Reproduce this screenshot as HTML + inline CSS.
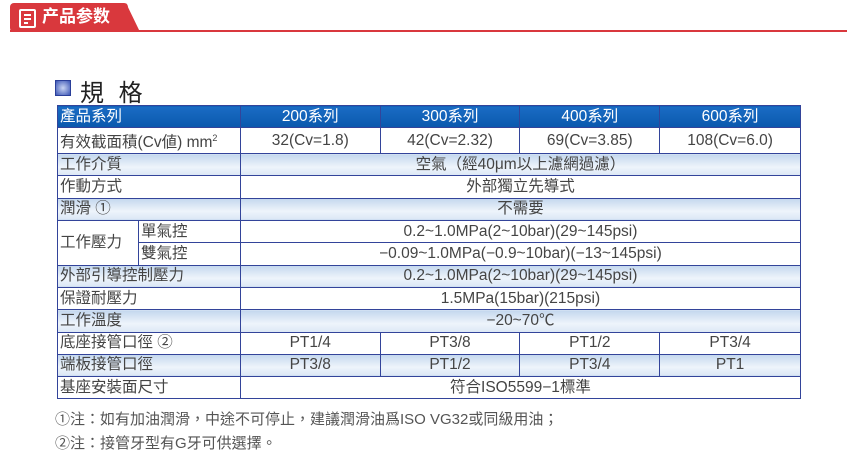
<!DOCTYPE html>
<html><head><meta charset="utf-8"><style>
body{margin:0;width:847px;height:462px;background:#fff;position:relative;overflow:hidden;font-family:"Liberation Sans","Noto Sans CJK TC",sans-serif;}
.tab{position:absolute;left:10px;top:3px;width:118px;height:29px;background:#d9383d;border-radius:4px 4px 0 4px;}
.tab:after{content:"";position:absolute;right:-12px;top:0;border-left:14px solid #d9383d;border-top:29px solid transparent;}
.line{position:absolute;left:10px;top:30px;width:837px;height:2px;background:#d9383d;}
.tabtxt{position:absolute;left:42px;top:6px;color:#fff;font-weight:bold;font-size:17px;line-height:22px;}
.icon{position:absolute;left:19px;top:9px;width:13px;height:15px;border:2px solid #fff;border-radius:2px;}
.icon i{position:absolute;left:3px;width:7px;height:2px;background:#fff;}
.title{position:absolute;left:80px;top:73px;font-size:24px;color:#222;letter-spacing:4px;}
.sq{position:absolute;left:55px;top:80px;width:14px;height:14px;background:radial-gradient(#c8d4f2,#3b55b5);border:1px solid #2a3f99;}
table{position:absolute;left:57px;top:105px;border-collapse:collapse;width:744px;}
td{border:1.5px solid #33449a;height:21.3px;padding:0;font-size:15.5px;color:#444;line-height:20px;text-align:center;white-space:nowrap;}
td.l{text-align:left;padding-left:2px;}
tr.h td{background:linear-gradient(#1a6cc4,#0a58ad);color:#fff;height:21px;}
tr.s td{background:linear-gradient(#c3d7ee,#eef4fb 60%,#dbe7f5);}
.note{position:absolute;left:55px;font-size:15px;color:#555;}
</style></head><body>
<div class="tab"></div><div class="line"></div>
<div class="icon"><i style="top:3px"></i><i style="top:7px"></i><i style="top:11px;width:4px"></i></div>
<div class="tabtxt">产品参数</div>
<div class="sq"></div><div class="title">規 格</div>
<table>
<colgroup><col style="width:81px"><col style="width:102px"><col style="width:140px"><col style="width:140px"><col style="width:140px"><col style="width:141px"></colgroup>
<tr class="h"><td class="l" colspan="2">產品系列</td><td>200系列</td><td>300系列</td><td>400系列</td><td>600系列</td></tr>
<tr><td class="l" colspan="2">有效截面積(Cv値) mm<sup style="font-size:9px">2</sup></td><td>32(Cv=1.8)</td><td>42(Cv=2.32)</td><td>69(Cv=3.85)</td><td>108(Cv=6.0)</td></tr>
<tr class="s"><td class="l" colspan="2">工作介質</td><td colspan="4">空氣（經40μm以上濾網過濾）</td></tr>
<tr><td class="l" colspan="2">作動方式</td><td colspan="4">外部獨立先導式</td></tr>
<tr class="s"><td class="l" colspan="2">潤滑 ①</td><td colspan="4">不需要</td></tr>
<tr><td class="l" rowspan="2">工作壓力</td><td class="l">單氣控</td><td colspan="4">0.2~1.0MPa(2~10bar)(29~145psi)</td></tr>
<tr><td class="l">雙氣控</td><td colspan="4">−0.09~1.0MPa(−0.9~10bar)(−13~145psi)</td></tr>
<tr class="s"><td class="l" colspan="2">外部引導控制壓力</td><td colspan="4">0.2~1.0MPa(2~10bar)(29~145psi)</td></tr>
<tr><td class="l" colspan="2">保證耐壓力</td><td colspan="4">1.5MPa(15bar)(215psi)</td></tr>
<tr class="s"><td class="l" colspan="2">工作溫度</td><td colspan="4">−20~70℃</td></tr>
<tr><td class="l" colspan="2">底座接管口徑 ②</td><td>PT1/4</td><td>PT3/8</td><td>PT1/2</td><td>PT3/4</td></tr>
<tr class="s"><td class="l" colspan="2">端板接管口徑</td><td>PT3/8</td><td>PT1/2</td><td>PT3/4</td><td>PT1</td></tr>
<tr><td class="l" colspan="2">基座安裝面尺寸</td><td colspan="4">符合ISO5599−1標準</td></tr>
</table>
<div class="note" style="top:408px">①注：如有加油潤滑，中途不可停止，建議潤滑油爲ISO VG32或同級用油；</div>
<div class="note" style="top:432px">②注：接管牙型有G牙可供選擇。</div>
</body></html>
